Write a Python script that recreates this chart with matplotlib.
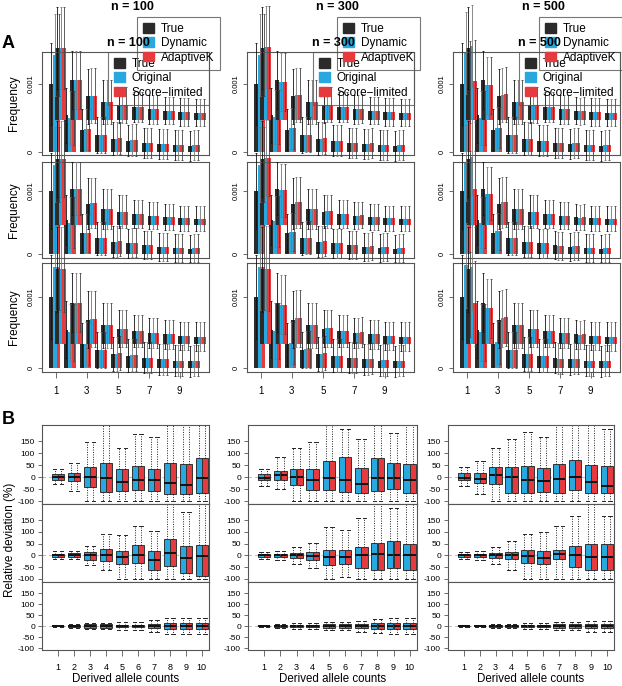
import numpy as np
import matplotlib
matplotlib.use('Agg')
import matplotlib.pyplot as plt
import matplotlib.patches as mpatches

plt.rcParams['font.family'] = ['Liberation Sans', 'DejaVu Sans']

W, H = 622, 686

counts = np.arange(1, 11)
sizes = ['n = 100', 'n = 300', 'n = 500']
odd_ticks = [1, 3, 5, 7, 9]

# ---- panel A : frequencies ----
# lower set (True / Original / Score-limited)
true_low = [0.00100, 0.00054, 0.00033, 0.00025, 0.00020, 0.00017, 0.00014, 0.00012, 0.00010, 0.00009]
orig_low = [[0.00142, 0.00050, 0.00034, 0.00025, 0.00020, 0.00018, 0.00014, 0.00012, 0.00010, 0.00010],
            [0.00142, 0.00052, 0.00035, 0.00026, 0.00020, 0.00017, 0.00014, 0.00012, 0.00011, 0.00010],
            [0.00145, 0.00050, 0.00036, 0.00025, 0.00020, 0.00017, 0.00013, 0.00013, 0.00010, 0.00010]]
score_low = [[0.00142, 0.00050, 0.00034, 0.00025, 0.00021, 0.00018, 0.00014, 0.00012, 0.00010, 0.00010],
             [0.00142, 0.00052, 0.00035, 0.00026, 0.00021, 0.00017, 0.00014, 0.00013, 0.00011, 0.00010],
             [0.00103, 0.00050, 0.00036, 0.00025, 0.00020, 0.00017, 0.00013, 0.00013, 0.00010, 0.00010]]
# upper set (True / Dynamic / AdaptiveK), drawn on a raised base
true_up = [0.00105, 0.00058, 0.00034, 0.00026, 0.00021, 0.00018, 0.00015, 0.00013, 0.00011, 0.00010]
dyn_up = [[0.00105, 0.00058, 0.00035, 0.00026, 0.00021, 0.00018, 0.00015, 0.00013, 0.00011, 0.00010],
          [0.00106, 0.00055, 0.00036, 0.00026, 0.00022, 0.00018, 0.00015, 0.00013, 0.00011, 0.00010],
          [0.00108, 0.00050, 0.00036, 0.00026, 0.00021, 0.00018, 0.00015, 0.00012, 0.00011, 0.00010]]
adk_up = [[0.00105, 0.00058, 0.00035, 0.00026, 0.00021, 0.00018, 0.00015, 0.00013, 0.00011, 0.00010],
          [0.00106, 0.00055, 0.00036, 0.00026, 0.00022, 0.00018, 0.00016, 0.00013, 0.00011, 0.00010],
          [0.00057, 0.00050, 0.00037, 0.00026, 0.00021, 0.00018, 0.00015, 0.00013, 0.00011, 0.00010]]
err_low = [0.00060, 0.00040, 0.00030, 0.00026, 0.00024, 0.00023, 0.00022, 0.00022, 0.00022, 0.00022]
err_up = [0.00060, 0.00042, 0.00040, 0.00032, 0.00026, 0.00022, 0.00021, 0.00020, 0.00020, 0.00020]

# ---- panel B : relative deviation (%) boxes, [row][col] ----
box_q1 = [[[-11, -16, -41, -62, -58, -52, -58, -71, -72, -68],
           [-14, -14, -34, -55, -55, -63, -66, -59, -49, -66],
           [-14, -25, -27, -66, -68, -63, -68, -55, -66, -68]],
          [[-7, -7, -18, -24, -35, -32, -60, -45, -73, -88],
           [-6, -8, -12, -18, -40, -35, -55, -60, -55, -60],
           [-6, -8, -12, -15, -30, -35, -15, -50, -60, -60]],
          [[-2, -3, -8, -8, -5, -6, -11, -14, -14, -13],
           [-2, -3, -5, -6, -8, -8, -10, -12, -14, -14],
           [-2, -2, -3, -4, -5, -6, -7, -8, -10, -10]]]
box_med = [[[0, 0, 0, -4, -20, -14, -11, -26, -33, -5],
            [-3, 7, 0, -10, -5, -10, -27, -3, -3, -12],
            [-3, -8, 7, 0, -12, -16, -7, 0, -22, -36]],
           [[0, 2, 0, 2, -5, 2, -20, 12, -12, -3],
            [0, 0, 2, -3, -5, -5, 0, 5, 3, 0],
            [0, 0, 0, 0, -3, -10, 8, 0, -5, -5]],
           [[0, 0, 0, 0, 0, 0, 0, 0, 0, 2],
            [0, 0, 0, 0, 0, 0, 0, 0, 0, 0],
            [0, 0, 0, 0, 0, 0, 0, 0, 0, 0]]]
box_q3 = [[[11, 18, 41, 59, 32, 48, 34, 58, 55, 78],
           [11, 27, 34, 32, 66, 82, 37, 80, 58, 55],
           [16, 16, 41, 41, 48, 37, 55, 71, 51, 48]],
          [[7, 10, 14, 28, 18, 45, 18, 70, 42, 46],
           [6, 8, 12, 15, 22, 22, 35, 55, 60, 50],
           [6, 8, 10, 15, 25, 20, 25, 40, 50, 50]],
          [[2, 3, 10, 8, 5, 6, 10, 14, 12, 15],
           [2, 3, 5, 6, 8, 8, 10, 12, 14, 14],
           [2, 2, 3, 4, 5, 6, 7, 8, 10, 10]]]
box_lo = [[[-27, -59, -100, -100, -100, -100, -100, -100, -100, -100],
           [-38, -50, -100, -100, -100, -100, -100, -100, -100, -100],
           [-38, -71, -100, -100, -100, -100, -100, -100, -100, -100]],
          [[-17, -17, -42, -63, -100, -100, -100, -100, -100, -100],
           [-15, -20, -35, -55, -100, -90, -100, -100, -100, -100],
           [-15, -20, -35, -60, -100, -100, -100, -100, -100, -100]],
          [[-4, -10, -14, -14, -18, -19, -28, -37, -37, -35],
           [-4, -7, -12, -14, -18, -20, -25, -30, -35, -38],
           [-4, -5, -8, -10, -12, -14, -18, -20, -25, -25]]]
box_hi = [[[34, 59, 147, 230, 120, 181, 165, 230, 230, 230],
           [34, 82, 123, 147, 230, 199, 160, 230, 185, 230],
           [44, 66, 123, 160, 189, 168, 230, 230, 230, 199]],
          [[17, 17, 42, 92, 85, 127, 103, 230, 183, 230],
           [15, 20, 35, 55, 120, 110, 160, 230, 200, 230],
           [15, 20, 35, 60, 90, 100, 125, 170, 230, 170]],
          [[4, 7, 14, 14, 17, 19, 28, 37, 37, 37],
           [4, 7, 12, 14, 18, 20, 25, 30, 35, 38],
           [4, 5, 8, 10, 12, 14, 18, 20, 25, 25]]]
y_ticks_B = [150, 100, 50, 0, -50, -100]

black = '#2b2b2b'
blue = '#29a8df'
red = '#e63b3e'
edge = '#555555'


def rect(x0, x1, y0, y1):
    return [x0 / W, 1 - y1 / H, (x1 - x0) / W, (y1 - y0) / H]


fig = plt.figure(figsize=(W / 100, H / 100), dpi=100)

colsA = [(42, 209), (247, 414), (453, 620)]
rowsA = [(52, 155), (162, 258), (263, 372)]
ylimA = [(-0.00004, 0.00147), (-0.00006, 0.00146), (-0.00006, 0.00148)]
baseA = [0.00048, 0.00046, 0.00034]
bw = 0.25


def bars(ax, xs, vals, errs, color, bottom, ecol):
    ax.bar(xs, vals, width=bw, bottom=bottom, color=color, clip_on=False, zorder=2, linewidth=0)
    eb = ax.errorbar(xs, np.array(vals) + bottom, yerr=errs, fmt='none', ecolor=ecol,
                     elinewidth=0.6, capsize=1.0, capthick=0.6, zorder=3)
    for ln in eb.lines[1]:
        ln.set_clip_on(False)
    for lc in eb.lines[2]:
        lc.set_clip_on(False)


def style_legend(lg, z):
    fr = lg.get_frame()
    fr.set_facecolor('none')
    fr.set_edgecolor(edge)
    fr.set_linewidth(0.8)
    lg.set_zorder(z)


leg_kw = dict(fontsize=8.5, frameon=True, fancybox=False, handlelength=0.9, handleheight=0.9,
              labelspacing=0.2, handletextpad=0.6, borderpad=0.5, borderaxespad=0)

for c in range(3):
    for r in range(3):
        x0, x1 = colsA[c]
        y0, y1 = rowsA[r]
        ax = fig.add_axes(rect(x0, x1, y0, y1))
        low = [true_low, orig_low[c], score_low[c]]
        up = [true_up, dyn_up[c], adk_up[c]]
        cols = [black, blue, red]
        ecols = ['#111111', '#777777', '#444444']
        for j in range(3):
            bars(ax, counts - 0.33 + j * bw, low[j], err_low, cols[j], 0, ecols[j])
        for j in range(3):
            bars(ax, counts + 0.05 + j * bw, up[j], err_up, cols[j], baseA[r], ecols[j])
        ax.set_xlim(0.1, 10.9)
        ax.set_ylim(*ylimA[r])
        ax.set_yticks([0, 0.001])
        ax.set_yticklabels(['0', '0.001'], rotation=90, va='center', fontsize=5.5)
        ax.tick_params(axis='y', length=3, width=0.6, color=edge, pad=2)
        if r == 2:
            ax.set_xticks(odd_ticks)
            ax.set_xticklabels([str(t) for t in odd_ticks], fontsize=7)
            ax.tick_params(axis='x', length=4, width=0.6, color=edge, pad=6)
        else:
            ax.set_xticks([])
        for s in ax.spines.values():
            s.set_color(edge)
            s.set_linewidth(0.8)
        if c == 0:
            ax.set_ylabel('Frequency', fontsize=8.5, labelpad=6)
        if r == 0:
            h1 = [mpatches.Patch(color=black), mpatches.Patch(color=blue), mpatches.Patch(color=red)]
            lg2 = ax.legend(h1, ['True', 'Original', 'Score\u2212limited'], loc='upper right',
                            bbox_to_anchor=(1.0, 1.0), **leg_kw)
            style_legend(lg2, 5)
            ax.add_artist(lg2)
            right_px = [220, 420, 622][c]
            lg1 = ax.legend(h1, ['True', 'Dynamic', 'AdaptiveK'], loc='upper right',
                            bbox_to_anchor=(right_px / W, 1 - 17 / H), bbox_transform=fig.transFigure,
                            **leg_kw)
            style_legend(lg1, 6)
            cx = (x0 + x1) / 2
            fig.text((cx + 7) / W, 1 - 7 / H, sizes[c], ha='center', va='center',
                     fontsize=9, fontweight='bold')
            fig.text((cx + 3) / W, 1 - 43 / H, sizes[c], ha='center', va='center',
                     fontsize=9, fontweight='bold', zorder=1)

# ---- panel B ----
colsB = [(42, 209), (248, 417), (448, 614)]
rowsB = [(425, 504), (504, 582), (582, 650)]
ylimB = [(-112, 217), (-113, 219), (-109, 200)]

for c in range(3):
    for r in range(3):
        x0, x1 = colsB[c]
        y0, y1 = rowsB[r]
        ax = fig.add_axes(rect(x0, x1, y0, y1))
        ax.axhline(0, color='#bbbbbb', lw=0.8, ls=(0, (3, 3)), zorder=0)
        stats = []
        for k in range(10):
            stats.append(dict(med=box_med[r][c][k], q1=box_q1[r][c][k], q3=box_q3[r][c][k],
                              whislo=box_lo[r][c][k], whishi=box_hi[r][c][k], fliers=[]))
        for off, colr in [(-0.2, blue), (0.2, red)]:
            ax.bxp(stats, positions=counts + off, widths=0.38, patch_artist=True,
                   showfliers=False, manage_ticks=False,
                   boxprops=dict(facecolor=colr, edgecolor='#333333', linewidth=0.7),
                   whiskerprops=dict(color='#222222', linestyle=(0, (1, 1.5)), linewidth=0.7),
                   capprops=dict(color='#222222', linewidth=0.7),
                   medianprops=dict(color='#111111', linewidth=1.4),
                   capwidths=0.2)
        ax.set_xlim(0.0, 10.45)
        ax.set_ylim(*ylimB[r])
        ax.set_yticks(y_ticks_B)
        ax.set_yticklabels([str(t) for t in y_ticks_B], fontsize=6)
        ax.tick_params(axis='y', length=3, width=0.6, color=edge, pad=2)
        if r == 2:
            ax.set_xticks(counts)
            ax.set_xticklabels([str(t) for t in counts], fontsize=6.5)
            ax.tick_params(axis='x', length=4, width=0.6, color=edge, pad=5)
            fig.text((x0 + x1) / 2 / W, 1 - 679 / H, 'Derived allele counts',
                     ha='center', va='center', fontsize=8.3)
        else:
            ax.set_xticks([])
        for s in ax.spines.values():
            s.set_color(edge)
            s.set_linewidth(0.8)

fig.text(10 / W, 1 - 540 / H, 'Relative deviation (%)', rotation=90, ha='center', va='center',
         fontsize=8.5)
fig.text(2 / W, 1 - 44 / H, 'A', fontsize=13, fontweight='bold', va='center', ha='left')
fig.text(2 / W, 1 - 419 / H, 'B', fontsize=13, fontweight='bold', va='center', ha='left')

fig.savefig('out.png', dpi=100)
